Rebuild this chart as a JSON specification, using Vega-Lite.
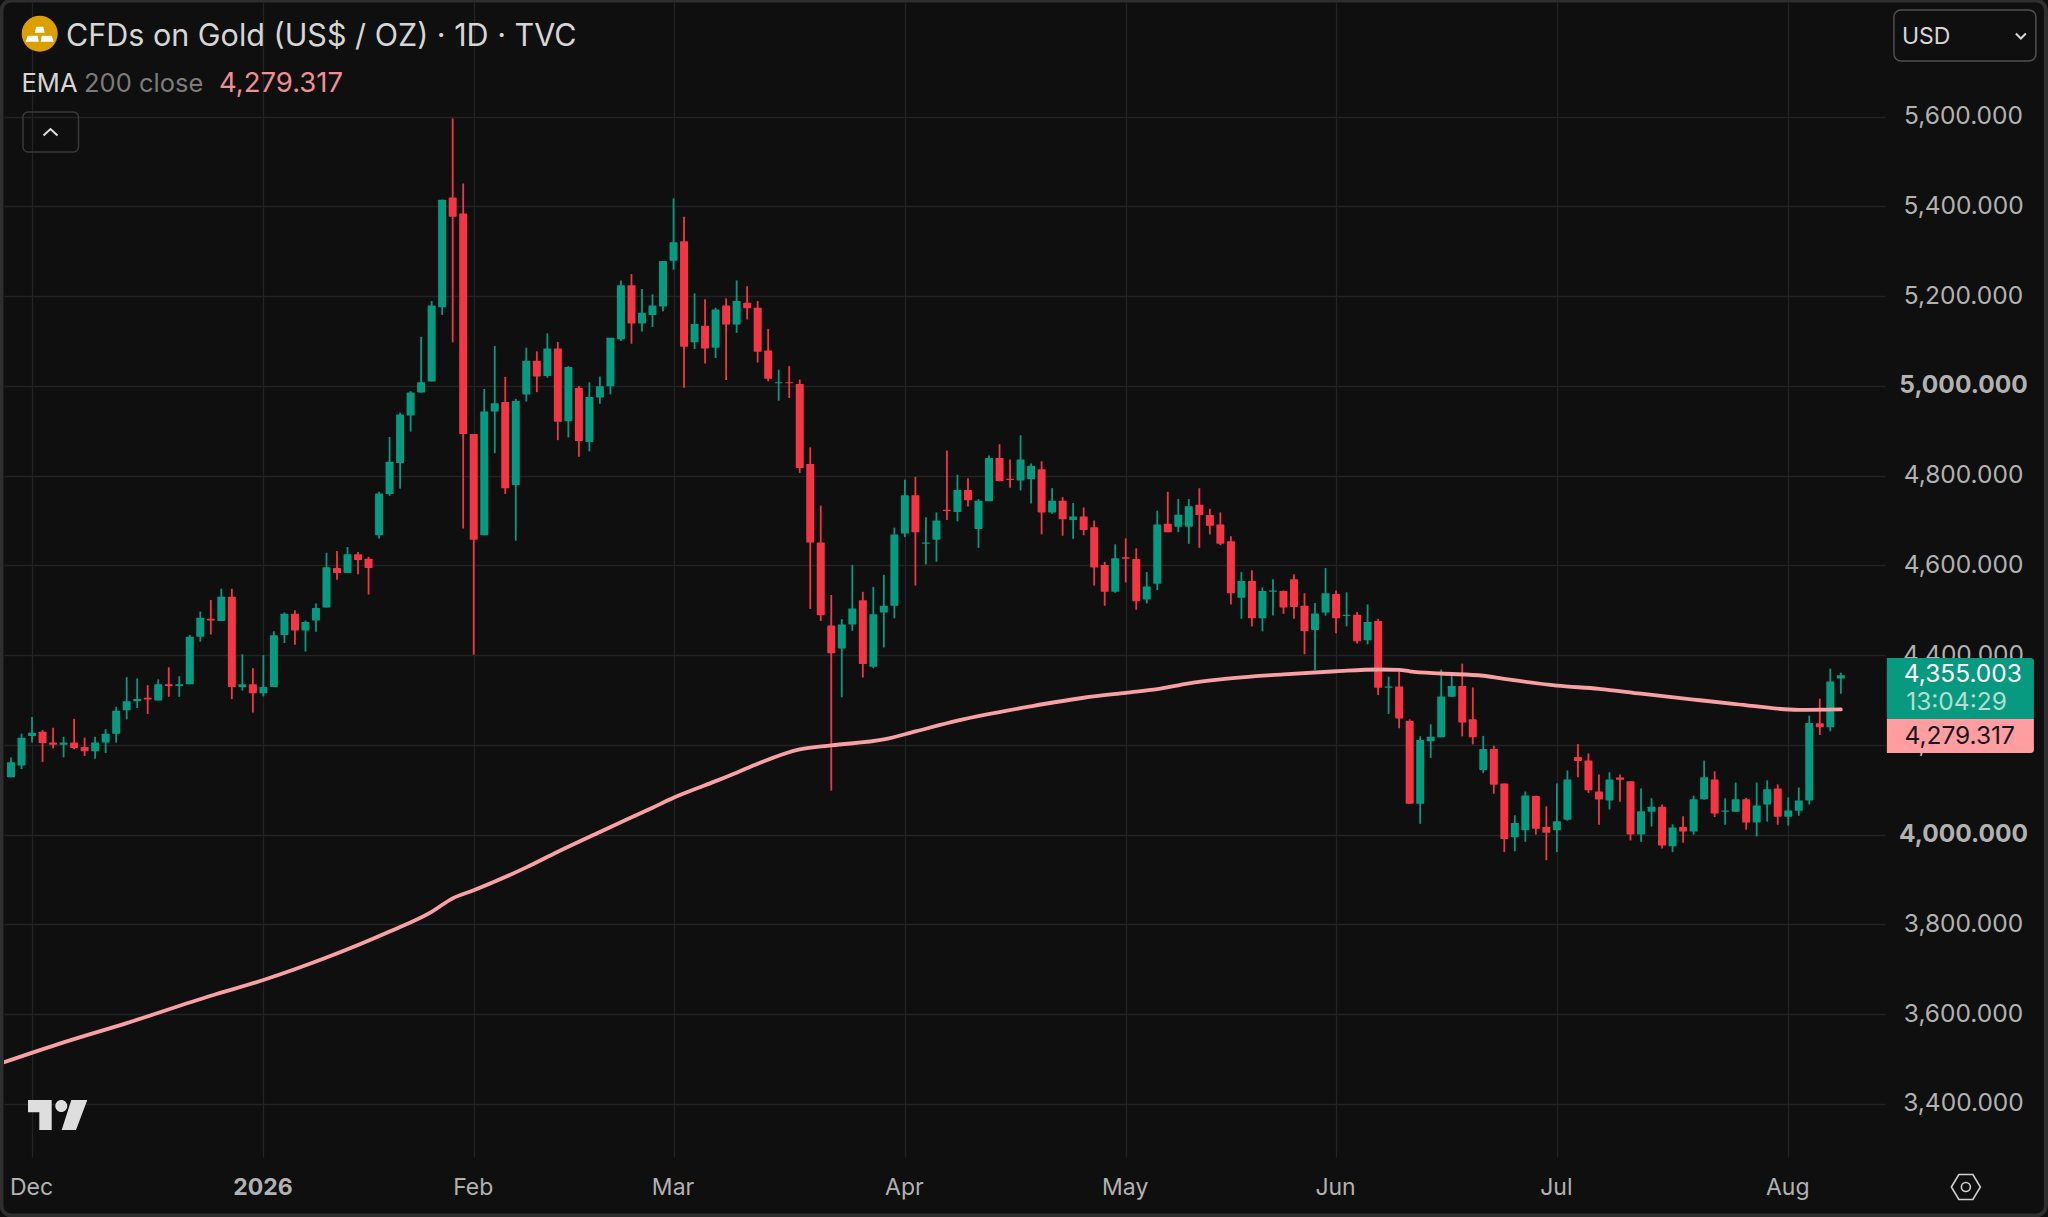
{
"$schema":"https://vega.github.io/schema/vega-lite/v6.json",
"width":1881,"height":1155,"autosize":{"type":"none"},
"padding":{"left":4,"top":2,"right":163,"bottom":60},
"background":"#0f0f0f",
"config":{"view":{"stroke":null},"font":"Inter","text":{"font":"Inter"}},
"datasets":{
"candles":[
{"i":0,"o":4128,"h":4172,"l":4128,"c":4161},{"i":1,"o":4154,"h":4225,"l":4146,"c":4216},{"i":2,"o":4220,"h":4262,"l":4205,"c":4227},{"i":3,"o":4229,"h":4233,"l":4162,"c":4204},{"i":4,"o":4205,"h":4238,"l":4192,"c":4200},{"i":5,"o":4200,"h":4218,"l":4172,"c":4205},{"i":6,"o":4205,"h":4258,"l":4190,"c":4193},{"i":7,"o":4195,"h":4216,"l":4175,"c":4186},{"i":8,"o":4186,"h":4218,"l":4169,"c":4205},{"i":9,"o":4205,"h":4235,"l":4182,"c":4225},
{"i":10,"o":4225,"h":4285,"l":4205,"c":4276},{"i":11,"o":4277,"h":4351,"l":4257,"c":4297},{"i":12,"o":4297,"h":4348,"l":4282,"c":4302},{"i":13,"o":4305,"h":4333,"l":4269,"c":4301},{"i":14,"o":4299,"h":4346,"l":4299,"c":4335},{"i":15,"o":4335,"h":4373,"l":4307,"c":4331},{"i":16,"o":4331,"h":4353,"l":4307,"c":4335},{"i":17,"o":4335,"h":4445,"l":4335,"c":4441},{"i":18,"o":4441,"h":4497,"l":4430,"c":4483},{"i":19,"o":4481,"h":4523,"l":4446,"c":4477},
{"i":20,"o":4476,"h":4548,"l":4476,"c":4530},{"i":21,"o":4530,"h":4548,"l":4302,"c":4329},{"i":22,"o":4329,"h":4402,"l":4321,"c":4335},{"i":23,"o":4335,"h":4371,"l":4272,"c":4315},{"i":24,"o":4315,"h":4400,"l":4308,"c":4329},{"i":25,"o":4329,"h":4453,"l":4329,"c":4444},{"i":26,"o":4445,"h":4495,"l":4427,"c":4492},{"i":27,"o":4492,"h":4500,"l":4423,"c":4455},{"i":28,"o":4455,"h":4477,"l":4408,"c":4474},{"i":29,"o":4477,"h":4515,"l":4452,"c":4505},
{"i":30,"o":4506,"h":4628,"l":4506,"c":4596},{"i":31,"o":4594,"h":4632,"l":4568,"c":4583},{"i":32,"o":4583,"h":4641,"l":4583,"c":4625},{"i":33,"o":4625,"h":4630,"l":4580,"c":4612},{"i":34,"o":4615,"h":4619,"l":4535,"c":4594},{"i":35,"o":4667,"h":4764,"l":4660,"c":4760},{"i":36,"o":4759,"h":4886,"l":4755,"c":4831},{"i":37,"o":4828,"h":4940,"l":4771,"c":4936},{"i":38,"o":4934,"h":4988,"l":4898,"c":4985},{"i":39,"o":4985,"h":5109,"l":4985,"c":5008},
{"i":40,"o":5010,"h":5189,"l":5010,"c":5179},{"i":41,"o":5175,"h":5415,"l":5158,"c":5415},{"i":42,"o":5420,"h":5596,"l":5097,"c":5377},{"i":43,"o":5384,"h":5451,"l":4682,"c":4893},{"i":44,"o":4893,"h":4893,"l":4401,"c":4657},{"i":45,"o":4667,"h":4993,"l":4667,"c":4943},{"i":46,"o":4943,"h":5089,"l":4850,"c":4961},{"i":47,"o":4964,"h":5020,"l":4759,"c":4772},{"i":48,"o":4779,"h":4971,"l":4655,"c":4966},{"i":49,"o":4981,"h":5085,"l":4965,"c":5056},
{"i":50,"o":5056,"h":5077,"l":4986,"c":5021},{"i":51,"o":5022,"h":5117,"l":5018,"c":5083},{"i":52,"o":5083,"h":5098,"l":4879,"c":4920},{"i":53,"o":4921,"h":5044,"l":4885,"c":5042},{"i":54,"o":4995,"h":5000,"l":4842,"c":4877},{"i":55,"o":4875,"h":5008,"l":4854,"c":4975},{"i":56,"o":4974,"h":5021,"l":4960,"c":4999},{"i":57,"o":4999,"h":5107,"l":4981,"c":5107},{"i":58,"o":5104,"h":5235,"l":5100,"c":5224},{"i":59,"o":5224,"h":5249,"l":5094,"c":5139},
{"i":60,"o":5139,"h":5216,"l":5121,"c":5163},{"i":61,"o":5158,"h":5204,"l":5131,"c":5179},{"i":62,"o":5177,"h":5278,"l":5166,"c":5278},{"i":63,"o":5279,"h":5418,"l":5259,"c":5320},{"i":64,"o":5322,"h":5377,"l":4996,"c":5087},{"i":65,"o":5097,"h":5206,"l":5082,"c":5138},{"i":66,"o":5134,"h":5193,"l":5050,"c":5083},{"i":67,"o":5085,"h":5174,"l":5062,"c":5170},{"i":68,"o":5179,"h":5195,"l":5013,"c":5137},{"i":69,"o":5137,"h":5235,"l":5118,"c":5189},
{"i":70,"o":5185,"h":5222,"l":5148,"c":5173},{"i":71,"o":5174,"h":5189,"l":5052,"c":5076},{"i":72,"o":5079,"h":5127,"l":5010,"c":5016},{"i":73,"o":5006,"h":5036,"l":4967,"c":5008},{"i":74,"o":5008,"h":5044,"l":4973,"c":5006},{"i":75,"o":5004,"h":5014,"l":4806,"c":4817},{"i":76,"o":4826,"h":4863,"l":4503,"c":4651},{"i":77,"o":4651,"h":4733,"l":4476,"c":4489},{"i":78,"o":4466,"h":4534,"l":4098,"c":4404},{"i":79,"o":4415,"h":4480,"l":4306,"c":4468},
{"i":80,"o":4468,"h":4601,"l":4454,"c":4504},{"i":81,"o":4522,"h":4541,"l":4350,"c":4380},{"i":82,"o":4374,"h":4552,"l":4371,"c":4491},{"i":83,"o":4495,"h":4579,"l":4417,"c":4510},{"i":84,"o":4510,"h":4684,"l":4482,"c":4669},{"i":85,"o":4671,"h":4791,"l":4663,"c":4756},{"i":86,"o":4756,"h":4797,"l":4555,"c":4674},{"i":87,"o":4648,"h":4707,"l":4602,"c":4651},{"i":88,"o":4657,"h":4718,"l":4608,"c":4700},{"i":89,"o":4724,"h":4856,"l":4701,"c":4721},
{"i":90,"o":4719,"h":4802,"l":4698,"c":4768},{"i":91,"o":4768,"h":4794,"l":4731,"c":4745},{"i":92,"o":4681,"h":4748,"l":4639,"c":4744},{"i":93,"o":4743,"h":4845,"l":4743,"c":4839},{"i":94,"o":4839,"h":4870,"l":4787,"c":4788},{"i":95,"o":4793,"h":4836,"l":4773,"c":4790},{"i":96,"o":4789,"h":4890,"l":4767,"c":4836},{"i":97,"o":4792,"h":4827,"l":4738,"c":4822},{"i":98,"o":4814,"h":4832,"l":4669,"c":4718},{"i":99,"o":4718,"h":4772,"l":4715,"c":4744},
{"i":100,"o":4744,"h":4752,"l":4666,"c":4703},{"i":101,"o":4701,"h":4739,"l":4659,"c":4709},{"i":102,"o":4709,"h":4729,"l":4667,"c":4679},{"i":103,"o":4685,"h":4700,"l":4555,"c":4595},{"i":104,"o":4601,"h":4608,"l":4510,"c":4541},{"i":105,"o":4541,"h":4647,"l":4539,"c":4616},{"i":106,"o":4618,"h":4660,"l":4562,"c":4615},{"i":107,"o":4614,"h":4638,"l":4501,"c":4520},{"i":108,"o":4524,"h":4585,"l":4515,"c":4553},{"i":109,"o":4559,"h":4722,"l":4545,"c":4691},
{"i":110,"o":4693,"h":4764,"l":4674,"c":4674},{"i":111,"o":4686,"h":4748,"l":4674,"c":4713},{"i":112,"o":4686,"h":4748,"l":4648,"c":4732},{"i":113,"o":4735,"h":4772,"l":4639,"c":4712},{"i":114,"o":4712,"h":4726,"l":4669,"c":4688},{"i":115,"o":4691,"h":4718,"l":4645,"c":4648},{"i":116,"o":4654,"h":4665,"l":4513,"c":4538},{"i":117,"o":4528,"h":4585,"l":4481,"c":4565},{"i":118,"o":4565,"h":4589,"l":4464,"c":4482},{"i":119,"o":4482,"h":4551,"l":4453,"c":4543},
{"i":120,"o":4541,"h":4569,"l":4488,"c":4544},{"i":121,"o":4543,"h":4544,"l":4492,"c":4506},{"i":122,"o":4569,"h":4580,"l":4481,"c":4507},{"i":123,"o":4510,"h":4538,"l":4402,"c":4454},{"i":124,"o":4456,"h":4516,"l":4367,"c":4493},{"i":125,"o":4495,"h":4594,"l":4488,"c":4538},{"i":126,"o":4536,"h":4544,"l":4449,"c":4482},{"i":127,"o":4487,"h":4540,"l":4464,"c":4490},{"i":128,"o":4490,"h":4496,"l":4426,"c":4431},{"i":129,"o":4433,"h":4513,"l":4424,"c":4474},
{"i":130,"o":4476,"h":4481,"l":4311,"c":4327},{"i":131,"o":4327,"h":4352,"l":4269,"c":4330},{"i":132,"o":4330,"h":4363,"l":4237,"c":4259},{"i":133,"o":4253,"h":4257,"l":4069,"c":4069},{"i":134,"o":4069,"h":4219,"l":4024,"c":4211},{"i":135,"o":4208,"h":4246,"l":4171,"c":4218},{"i":136,"o":4217,"h":4368,"l":4217,"c":4308},{"i":137,"o":4307,"h":4354,"l":4307,"c":4331},{"i":138,"o":4331,"h":4381,"l":4219,"c":4250},{"i":139,"o":4257,"h":4328,"l":4201,"c":4217},
{"i":140,"o":4144,"h":4220,"l":4137,"c":4191},{"i":141,"o":4191,"h":4198,"l":4091,"c":4111},{"i":142,"o":4114,"h":4114,"l":3961,"c":3990},{"i":143,"o":3994,"h":4043,"l":3963,"c":4026},{"i":144,"o":4010,"h":4096,"l":3984,"c":4087},{"i":145,"o":4086,"h":4087,"l":4000,"c":4013},{"i":146,"o":4017,"h":4063,"l":3943,"c":4004},{"i":147,"o":4010,"h":4114,"l":3961,"c":4030},{"i":148,"o":4033,"h":4143,"l":4031,"c":4123},{"i":149,"o":4173,"h":4202,"l":4128,"c":4164},
{"i":150,"o":4165,"h":4181,"l":4093,"c":4099},{"i":151,"o":4096,"h":4134,"l":4022,"c":4078},{"i":152,"o":4076,"h":4139,"l":4056,"c":4123},{"i":153,"o":4127,"h":4134,"l":4073,"c":4122},{"i":154,"o":4119,"h":4119,"l":3987,"c":4000},{"i":155,"o":4000,"h":4103,"l":3984,"c":4052},{"i":156,"o":4051,"h":4081,"l":4018,"c":4062},{"i":157,"o":4062,"h":4067,"l":3969,"c":3976},{"i":158,"o":3974,"h":4023,"l":3961,"c":4016},{"i":159,"o":4017,"h":4041,"l":3982,"c":4007},
{"i":160,"o":4007,"h":4087,"l":4000,"c":4079},{"i":161,"o":4079,"h":4165,"l":4078,"c":4128},{"i":162,"o":4123,"h":4141,"l":4039,"c":4047},{"i":163,"o":4051,"h":4081,"l":4022,"c":4054},{"i":164,"o":4051,"h":4116,"l":4051,"c":4079},{"i":165,"o":4079,"h":4082,"l":4011,"c":4027},{"i":166,"o":4027,"h":4116,"l":3996,"c":4065},{"i":167,"o":4067,"h":4121,"l":4029,"c":4101},{"i":168,"o":4103,"h":4112,"l":4022,"c":4040},{"i":169,"o":4040,"h":4083,"l":4020,"c":4054},
{"i":170,"o":4053,"h":4105,"l":4042,"c":4076},{"i":171,"o":4076,"h":4265,"l":4067,"c":4249},{"i":172,"o":4248,"h":4303,"l":4222,"c":4239},{"i":173,"o":4239,"h":4370,"l":4230,"c":4341},{"i":174,"o":4348,"h":4361,"l":4314,"c":4355}
],
"ema":[{"i":-1,"v":3490},{"i":5,"v":3537},{"i":11,"v":3580},{"i":19,"v":3641},{"i":24,"v":3676},{"i":30,"v":3726},{"i":36,"v":3784},{"i":40,"v":3828},{"i":42,"v":3858},{"i":44,"v":3876},{"i":49,"v":3927},{"i":52,"v":3962},{"i":56,"v":4006},{"i":61,"v":4060},{"i":63,"v":4082},{"i":66,"v":4110},{"i":69,"v":4138},{"i":71,"v":4158},{"i":75,"v":4190},{"i":78,"v":4199},{"i":83,"v":4212},{"i":86,"v":4230},{"i":90,"v":4254},{"i":97,"v":4286},{"i":102,"v":4305},{"i":106,"v":4316},{"i":109,"v":4324},{"i":112,"v":4337},{"i":115,"v":4346},{"i":121,"v":4357},{"i":126,"v":4364},{"i":130,"v":4368},{"i":132,"v":4367},{"i":133,"v":4364},{"i":136,"v":4359},{"i":140,"v":4354},{"i":142,"v":4347},{"i":147,"v":4332},{"i":151,"v":4325},{"i":155,"v":4314},{"i":160,"v":4301},{"i":164,"v":4291},{"i":170,"v":4278},{"i":174,"v":4279}]
},
"layer":[
{"data":{"name":"candles"},
 "mark":{"type":"rule","strokeWidth":1.8},
 "encoding":{
  "x":{"field":"i","type":"quantitative","title":null,"scale":{"domain":[-0.666,178.2],"nice":false,"zero":false,"padding":0},
   "axis":{"orient":"bottom","title":null,"values":[2,24,44,63,85,106,126,147,169],"labelExpr":"{'2':'Dec','24':'2026','44':'Feb','63':'Mar','85':'Apr','106':'May','126':'Jun','147':'Jul','169':'Aug'}[datum.value]","grid":true,"gridColor":"#232323","gridWidth":1.3,"domain":false,"ticks":false,"labelColor":"#b2b2b2","labelFont":"Inter","labelFontSize":23,"labelPadding":19,"labelOffset":-1,"labelOverlap":false,"labelBound":false,"labelFlush":false,"labelFontWeight":{"condition":{"test":"datum.value==24","value":"bold"},"value":"normal"}}},
  "y":{"field":"l","type":"quantitative","title":null,"scale":{"domain":[3281.6,5855.4],"nice":false,"zero":false,"padding":0},
   "axis":{"orient":"right","title":null,"values":[3400,3600,3800,4000,4200,4400,4600,4800,5000,5200,5400,5600],"format":",.3f","grid":true,"gridColor":"#232323","gridWidth":1.3,"domain":false,"ticks":false,"labelColor":"#b2b2b2","labelFont":"Inter","labelFontSize":24.5,"labelPadding":78,"labelAlign":"center","labelOverlap":false,"labelBound":false,"labelFontWeight":{"condition":{"test":"datum.value==5000||datum.value==4000","value":"bold"},"value":"normal"}}},
  "y2":{"field":"h"},
  "color":{"condition":{"test":"datum.c>=datum.o","value":"#089981"},"value":"#F23645"}
 }},
{"data":{"name":"candles"},
 "mark":{"type":"bar","orient":"vertical","size":8,"cornerRadius":0.5},
 "encoding":{
  "x":{"field":"i","type":"quantitative"},
  "y":{"field":"o","type":"quantitative"},
  "y2":{"field":"c"},
  "color":{"condition":{"test":"datum.c>=datum.o","value":"#089981"},"value":"#F23645"}
 }},
{"data":{"name":"ema"},
 "mark":{"type":"line","stroke":"#F9A0A4","strokeWidth":3.8,"clip":true,"strokeCap":"round","strokeJoin":"round","interpolate":"monotone"},
 "encoding":{"x":{"field":"i","type":"quantitative"},"y":{"field":"v","type":"quantitative"}}},
{"data":{"values":[{}]},"mark":{"type":"rect","filled":false,"stroke":"#2e2e2e","strokeWidth":4,"cornerRadius":10},
 "encoding":{"x":{"datum":-0.904,"type":"quantitative"},"x2":{"datum":193.5},"y":{"datum":5858.7,"type":"quantitative"},"y2":{"datum":3151.2}}},
{"data":{"values":[{}]},"mark":{"type":"rect","filled":false,"stroke":"#3a3a3a","strokeWidth":1.5,"cornerRadius":5},
 "encoding":{"x":{"datum":1.141,"type":"quantitative"},"x2":{"datum":6.418},"y":{"datum":5610.3,"type":"quantitative"},"y2":{"datum":5521.1}}},
{"data":{"values":[{}]},"mark":{"type":"rect","filled":false,"stroke":"#505050","strokeWidth":1.5,"cornerRadius":7},
 "encoding":{"x":{"datum":179.05,"type":"quantitative"},"x2":{"datum":192.55},"y":{"datum":5837.6,"type":"quantitative"},"y2":{"datum":5723.9}}},
{"data":{"values":[{}]},"mark":{"type":"rect","fill":"#089981","cornerRadiusTopRight":3},
 "encoding":{"x":{"datum":178.38,"type":"quantitative"},"x2":{"datum":192.36},"y":{"datum":4393.6,"type":"quantitative"},"y2":{"datum":4257.6}}},
{"data":{"values":[{}]},"mark":{"type":"rect","fill":"#FF9DA1","cornerRadiusBottomRight":3},
 "encoding":{"x":{"datum":178.38,"type":"quantitative"},"x2":{"datum":192.36},"y":{"datum":4257.6,"type":"quantitative"},"y2":{"datum":4181.9}}},
{"data":{"values":[{}]},"mark":{"type":"text","text":"4,355.003","font":"Inter","fontSize":24.5,"fill":"#ffffff","align":"center","baseline":"middle"},
 "encoding":{"x":{"datum":185.6,"type":"quantitative"},"y":{"datum":4355,"type":"quantitative"}}},
{"data":{"values":[{}]},"mark":{"type":"text","text":"13:04:29","font":"Inter","fontSize":24.5,"fill":"#b5ddd3","align":"center","baseline":"middle"},
 "encoding":{"x":{"datum":185.0,"type":"quantitative"},"y":{"datum":4293,"type":"quantitative"}}},
{"data":{"values":[{}]},"mark":{"type":"text","text":"4,279.317","font":"Inter","fontSize":24.5,"fill":"#131722","align":"center","baseline":"middle"},
 "encoding":{"x":{"datum":185.3,"type":"quantitative"},"y":{"datum":4217,"type":"quantitative"}}},
{"data":{"values":[{}]},"mark":{"type":"text","text":"CFDs on Gold (US$ / OZ) · 1D · TVC","font":"Inter","fontSize":30.5,"fill":"#d6d6d6","align":"left","baseline":"middle"},
 "encoding":{"x":{"datum":5.229,"type":"quantitative"},"y":{"datum":5777,"type":"quantitative"}}},
{"data":{"values":[{}]},"mark":{"type":"text","text":"EMA","font":"Inter","fontSize":25.5,"fill":"#d6d6d6","align":"left","baseline":"middle"},
 "encoding":{"x":{"datum":1.0,"type":"quantitative"},"y":{"datum":5672,"type":"quantitative"}}},
{"data":{"values":[{}]},"mark":{"type":"text","text":"200 close","font":"Inter","fontSize":25.5,"fill":"#7c7c7c","align":"left","baseline":"middle"},
 "encoding":{"x":{"datum":6.941,"type":"quantitative"},"y":{"datum":5672,"type":"quantitative"}}},
{"data":{"values":[{}]},"mark":{"type":"text","text":"4,279.317","font":"Inter","fontSize":27.5,"fill":"#EE8F94","align":"left","baseline":"middle"},
 "encoding":{"x":{"datum":19.777,"type":"quantitative"},"y":{"datum":5672,"type":"quantitative"}}},
{"data":{"values":[{}]},"mark":{"type":"text","text":"USD","font":"Inter","fontSize":23,"fill":"#d6d6d6","align":"left","baseline":"middle"},
 "encoding":{"x":{"datum":179.81,"type":"quantitative"},"y":{"datum":5777,"type":"quantitative"}}},
{"data":{"values":[{}]},"mark":{"type":"point","shape":"M-5,-2.5L0,2.5L5,-2.5","size":4,"stroke":"#d6d6d6","strokeWidth":2,"fill":null,"opacity":1},
 "encoding":{"x":{"datum":191.12,"type":"quantitative"},"y":{"datum":5779.6,"type":"quantitative"}}},
{"data":{"values":[{}]},"mark":{"type":"point","shape":"M-7,3.5L0,-3L7,3.5","size":4,"stroke":"#e0e0e0","strokeWidth":2,"fill":null,"opacity":1},
 "encoding":{"x":{"datum":3.755,"type":"quantitative"},"y":{"datum":5565.7,"type":"quantitative"}}},
{"data":{"values":[{}]},"mark":{"type":"point","shape":"circle","size":1296,"filled":true,"fill":"#DBA000","stroke":null,"opacity":1},
 "encoding":{"x":{"datum":2.729,"type":"quantitative"},"y":{"datum":5784.8,"type":"quantitative"}}},
{"data":{"values":[{}]},"mark":{"type":"point","shape":"M-3.5,-7H3.5L5,-1H-5ZM-12,2H-2L-1,8H-14ZM2,2H12L14,8H1Z","size":4,"filled":true,"fill":"#ffffff","stroke":null,"opacity":1},
 "encoding":{"x":{"datum":2.729,"type":"quantitative"},"y":{"datum":5784.8,"type":"quantitative"}}},
{"data":{"values":[{}]},"mark":{"type":"point","shape":"M-29,-15H-5.3V15H-17.7V-2.7H-29ZM14.3,-15H30.3L19,15H4.7ZM-1.7,-9A6,6,0,1,0,10.3,-9A6,6,0,1,0,-1.7,-9Z","size":4,"filled":true,"fill":"#dedede","stroke":null,"opacity":1},
 "encoding":{"x":{"datum":4.374,"type":"quantitative"},"y":{"datum":3375.2,"type":"quantitative"}}},
{"data":{"values":[{}]},"mark":{"type":"point","shape":"M-14.5,0L-7,-12.5H7L14.5,0L7,12.5H-7ZM-4.5,0A4.5,4.5,0,1,0,4.5,0A4.5,4.5,0,1,0,-4.5,0Z","size":4,"stroke":"#cfcfcf","strokeWidth":1.6,"fill":null,"opacity":1},
 "encoding":{"x":{"datum":185.89,"type":"quantitative"},"y":{"datum":3214.7,"type":"quantitative"}}}
]
}
